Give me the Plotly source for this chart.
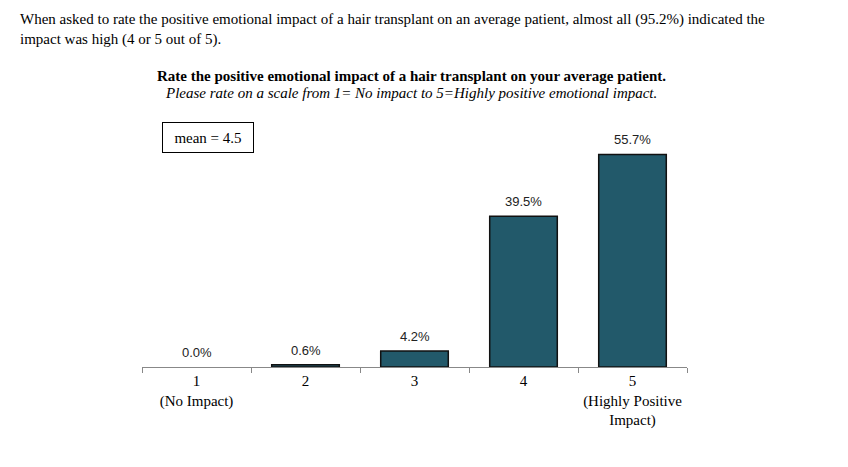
import plotly.graph_objects as go

categories = ["1", "2", "3", "4", "5"]
tick_labels = ["1<br>(No Impact)", "2", "3", "4", "5<br>(Highly Positive<br>Impact)"]
values = [0.0, 0.6, 4.2, 39.5, 55.7]
value_labels = ["0.0%", "0.6%", "4.2%", "39.5%", "55.7%"]
mean_text = "mean = 4.5"
intro_lines = [
    "When asked to rate the positive emotional impact of a hair transplant on an average patient, almost all (95.2%) indicated the",
    "impact was high (4 or 5 out of 5).",
]
title_text = "Rate the positive emotional impact of a hair transplant on your average patient."
subtitle_text = "Please rate on a scale from 1= No impact to 5=Highly positive emotional impact."

serif = "Liberation Serif, Times New Roman, serif"
sans = "Liberation Sans, Arial, sans-serif"
bar_color = "#22596a"

# page has an 8px body margin; work in figure pixel coords (page - 8)
W, H = 840, 459
ML, MR, MT, MB = 134, 161, 130, 100
pw, ph = W - ML - MR, H - MT - MB

def px(x):
    return (x - ML) / pw

def py(y):
    return (H - y - MB) / ph

idx = list(range(len(categories)))

fig = go.Figure()
fig.add_trace(go.Bar(
    x=idx, y=values, width=0.62,
    marker=dict(color=bar_color,
                line=dict(color="#111111", width=[0 if v == 0 else 1.5 for v in values])),
    hoverinfo="skip", showlegend=False,
))

annotations = []
for i, v, t in zip(idx, values, value_labels):
    annotations.append(dict(x=i, y=v, xref="x", yref="y", text=t, showarrow=False,
                            yanchor="bottom", yshift=5,
                            font=dict(family=sans, size=13, color="#222")))

for k, line in enumerate(intro_lines):
    annotations.append(dict(x=px(10), y=py(12 + 20 * k), xref="paper", yref="paper", text=line,
                            showarrow=False, xanchor="left", yanchor="middle",
                            font=dict(family=serif, size=15, color="#000")))

annotations += [
    dict(x=px(403), y=py(68), xref="paper", yref="paper", text="<b>" + title_text + "</b>",
         showarrow=False, xanchor="center", yanchor="middle",
         font=dict(family=serif, size=15, color="#000")),
    dict(x=px(403), y=py(85), xref="paper", yref="paper", text="<i>" + subtitle_text + "</i>",
         showarrow=False, xanchor="center", yanchor="middle",
         font=dict(family=serif, size=15, color="#000")),
    dict(x=px(200), y=py(129.5), xref="paper", yref="paper", text=mean_text,
         showarrow=False, xanchor="center", yanchor="middle",
         bordercolor="#000", borderwidth=1, borderpad=5, bgcolor="#fff",
         width=80, height=19,
         font=dict(family=serif, size=15, color="#000")),
]

fig.update_layout(
    width=W, height=H,
    margin=dict(l=ML, r=MR, t=MT, b=MB, pad=0),
    paper_bgcolor="white", plot_bgcolor="white",
    annotations=annotations,
    xaxis=dict(tickvals=idx, ticktext=tick_labels,
               range=[-0.5, 4.5], showline=True, linecolor="#888", linewidth=1,
               ticks="", showgrid=False, zeroline=False,
               minor=dict(tickvals=[i + 0.5 for i in [-1] + idx], ticks="outside",
                          ticklen=5, tickcolor="#888", showgrid=False),
               tickfont=dict(family=serif, size=15, color="#000")),
    yaxis=dict(range=[0, 60], visible=False, showgrid=False, zeroline=False),
)

fig.write_html("out.html")
